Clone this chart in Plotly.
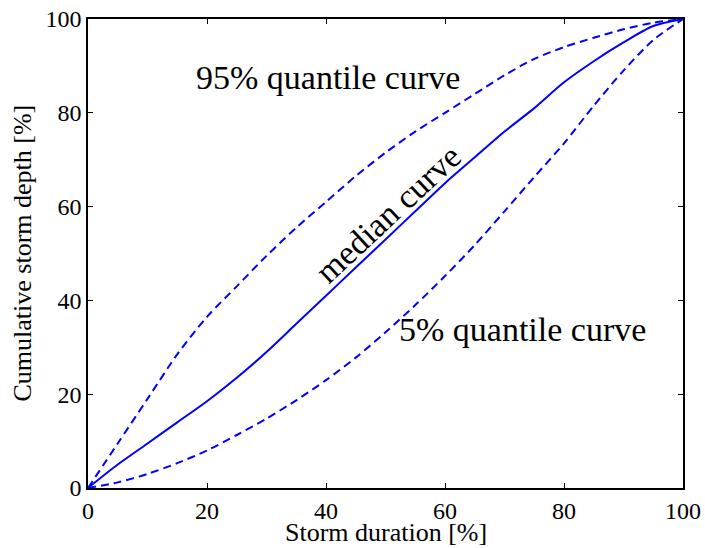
import plotly.graph_objects as go

duration = [0, 5, 10, 15, 20, 25, 30, 35, 40, 45, 50, 55, 60, 65, 70, 75, 80, 85, 90, 95, 100]
median = [0, 5, 9.5, 14, 18.5, 23.5, 29, 35, 41, 47, 53, 59, 65, 70.5, 76, 81, 86.5, 91, 95, 98.5, 100]
q95 = [0, 9.5, 19, 28.5, 36.5, 43, 49.5, 55.5, 61, 66.5, 71.5, 76, 80, 84, 88, 91.5, 94, 96, 97.8, 99.2, 100]
q05 = [0, 1.2, 3, 5.3, 8, 11.3, 14.8, 18.7, 23, 27.8, 33.2, 39, 45.2, 51.8, 59, 66.3, 73.5, 81.5, 89, 95.5, 100]

xticks = [0, 20, 40, 60, 80, 100]
yticks = [0, 20, 40, 60, 80, 100]

FONT = "Liberation Serif, Times New Roman, serif"
BLUE = "#0000FF"
DASH = "8px,5px"

fig = go.Figure()
fig.add_trace(go.Scatter(x=duration, y=q95, mode="lines", line=dict(color=BLUE, width=2, dash=DASH, shape="spline", smoothing=0.8), showlegend=False))
fig.add_trace(go.Scatter(x=duration, y=q05, mode="lines", line=dict(color=BLUE, width=2, dash=DASH, shape="spline", smoothing=0.8), showlegend=False))
fig.add_trace(go.Scatter(x=duration, y=median, mode="lines", line=dict(color=BLUE, width=2, shape="spline", smoothing=0.8), showlegend=False))

fig.add_annotation(x=40.4, y=87.5, text="95% quantile curve", showarrow=False,
                   font=dict(family=FONT, size=34, color="black"))
fig.add_annotation(x=73.1, y=33.8, text="5% quantile curve", showarrow=False,
                   font=dict(family=FONT, size=34, color="black"))
fig.add_annotation(x=50.5, y=58.5, text="median curve", showarrow=False, textangle=-43,
                   font=dict(family=FONT, size=34, color="black"))

# axis titles (plot area: 88..683 x, 19..488 y)
fig.add_annotation(xref="paper", yref="paper", x=0.5, y=-44 / 469, xanchor="center", yanchor="middle",
                   text="Storm duration [%]", showarrow=False,
                   font=dict(family=FONT, size=26, color="black"))
fig.add_annotation(xref="paper", yref="paper", x=-66 / 595, y=0.5, xanchor="center", yanchor="middle",
                   text="Cumulative storm depth [%]", showarrow=False, textangle=-90,
                   font=dict(family=FONT, size=26, color="black"))

axis_common = dict(showline=True, linecolor="black", linewidth=1.5, mirror="ticks",
                   ticks="inside", ticklen=5, tickcolor="black", tickwidth=1,
                   showgrid=False, zeroline=False, automargin=False,
                   ticklabeloverflow="allow",
                   tickfont=dict(family=FONT, size=24, color="black"))

fig.update_xaxes(range=[0, 100], tickvals=xticks, ticktext=[str(v) for v in xticks], **axis_common)
fig.update_yaxes(range=[0, 100], tickvals=yticks, ticktext=[str(v) for v in yticks], **axis_common)

fig.update_layout(width=705, height=548, margin=dict(l=88, r=22, t=19, b=60),
                  plot_bgcolor="white", paper_bgcolor="white")

fig.write_html("out.html", config={"displayModeBar": False},
               post_script="document.body.style.margin='0';document.body.style.overflow='hidden';")
